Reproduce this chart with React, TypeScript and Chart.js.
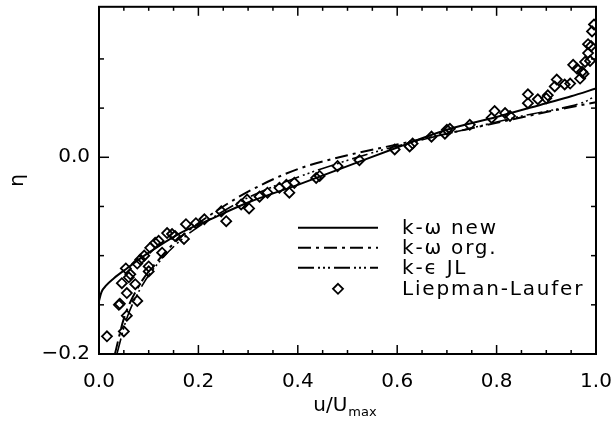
import React, { useEffect, useRef } from "react";
import { Chart, registerables } from "chart.js";

Chart.register(...registerables);

// ---- data ----
const newU = [0, 0.005, 0.015, 0.03, 0.056, 0.097, 0.16, 0.22, 0.3, 0.4, 0.5, 0.6, 0.7, 0.8, 0.9, 0.95, 1.0];
const newEta = [-0.146, -0.137, -0.13, -0.123, -0.113, -0.098, -0.078, -0.064, -0.046, -0.028, -0.009, 0.01, 0.028, 0.041, 0.055, 0.062, 0.07];

const orgU = [0.032, 0.05, 0.08, 0.117, 0.16, 0.22, 0.3, 0.4, 0.5, 0.6, 0.7, 0.8, 0.9, 1.0];
const orgEta = [-0.2, -0.164, -0.131, -0.106, -0.083, -0.06, -0.035, -0.012, 0.002, 0.013, 0.024, 0.035, 0.046, 0.056];

const jlU = [0.036, 0.055, 0.085, 0.12, 0.17, 0.23, 0.3, 0.38, 0.47, 0.56, 0.66, 0.76, 0.86, 0.94, 0.98, 1.0];
const jlEta = [-0.2, -0.165, -0.132, -0.107, -0.082, -0.061, -0.041, -0.024, -0.008, 0.006, 0.019, 0.031, 0.043, 0.051, 0.057, 0.063];

const expU = [
  0.016, 0.05, 0.056, 0.042, 0.04, 0.077, 0.056, 0.073, 0.046, 0.054, 0.063, 0.1, 0.1, 0.077, 0.091,
  0.103, 0.127, 0.113, 0.06, 0.083, 0.12, 0.137, 0.147, 0.171, 0.175, 0.195, 0.212, 0.246, 0.256,
  0.286, 0.302, 0.298, 0.323, 0.339, 0.153, 0.363, 0.383, 0.393, 0.377, 0.444, 0.437, 0.48, 0.524,
  0.595, 0.625, 0.631, 0.669, 0.696, 0.706, 0.7, 0.746, 0.79, 0.796, 0.817, 0.827, 0.863, 0.863,
  0.883, 0.9, 0.903, 0.917, 0.921, 0.948, 0.954, 0.968, 0.972, 0.978, 0.984, 0.984, 0.992, 0.99,
  0.988, 0.962, 0.937, 0.975, 0.996,
];
const expEta = [
  -0.182, -0.177, -0.161, -0.149, -0.15, -0.146, -0.138, -0.129, -0.128, -0.113, -0.119, -0.116, -0.111, -0.108, -0.1,
  -0.092, -0.097, -0.087, -0.122, -0.104, -0.085, -0.077, -0.078, -0.083, -0.068, -0.067, -0.063, -0.055, -0.065,
  -0.048, -0.052, -0.043, -0.04, -0.036, -0.08, -0.031, -0.036, -0.026, -0.028, -0.019, -0.021, -0.009, -0.003,
  0.008, 0.011, 0.014, 0.021, 0.024, 0.029, 0.028, 0.033, 0.04, 0.047, 0.045, 0.042, 0.064, 0.055,
  0.059, 0.06, 0.063, 0.072, 0.079, 0.075, 0.094, 0.08, 0.087, 0.097, 0.106, 0.115, 0.128, 0.113,
  0.098, 0.09, 0.074, 0.085, 0.135,
];

const xTickValues = [0, 0.2, 0.4, 0.6, 0.8, 1.0];
const xMinorValues = [0.05, 0.1, 0.15, 0.25, 0.3, 0.35, 0.45, 0.5, 0.55, 0.65, 0.7, 0.75, 0.85, 0.9, 0.95];
const yTickValues = [-0.2, 0.0];
const yMinorValues = [-0.15, -0.1, -0.05, 0.05, 0.1];

const seriesLabels = ["k-ω new", "k-ω org.", "k-ϵ JL", "Liepman-Laufer"];

const FONT = "'DejaVu Sans', sans-serif";

const framePlugin = {
  id: "frame",
  afterDatasetsDraw(chart: any) {
    const { ctx, chartArea: a, scales } = chart;
    const line = (x1: number, y1: number, x2: number, y2: number) => {
      ctx.beginPath();
      ctx.moveTo(x1, y1);
      ctx.lineTo(x2, y2);
      ctx.stroke();
    };
    ctx.save();
    ctx.strokeStyle = "#000";
    ctx.lineWidth = 2;
    ctx.strokeRect(a.left, a.top, a.right - a.left, a.bottom - a.top);
    ctx.lineWidth = 1.5;
    xTickValues.forEach((v) => {
      const p = scales.x.getPixelForValue(v);
      line(p, a.bottom, p, a.bottom - 9);
      line(p, a.top, p, a.top + 9);
    });
    xMinorValues.forEach((v) => {
      const p = scales.x.getPixelForValue(v);
      line(p, a.bottom, p, a.bottom - 4);
      line(p, a.top, p, a.top + 4);
    });
    yTickValues.forEach((v) => {
      const p = scales.y.getPixelForValue(v);
      line(a.left, p, a.left + 10, p);
      line(a.right, p, a.right - 10, p);
    });
    yMinorValues.forEach((v) => {
      const p = scales.y.getPixelForValue(v);
      line(a.left, p, a.left + 5, p);
      line(a.right, p, a.right - 5, p);
    });
    ctx.restore();
  },
};

const legendPlugin = {
  id: "customLegend",
  afterDraw(chart: any) {
    const { ctx, chartArea: a } = chart;
    const x0 = a.left + 199;
    const x1 = a.left + 279;
    const tx = a.left + 303;
    const rows = [a.top + 221, a.top + 241, a.top + 261, a.top + 282];
    ctx.save();
    ctx.font = `20px ${FONT}`;
    ctx.textBaseline = "middle";
    ctx.fillStyle = "#000";
    (ctx as any).letterSpacing = "1.8px";
    chart.data.datasets.forEach((ds: any, i: number) => {
      const y = rows[i];
      ctx.strokeStyle = "#000";
      if (ds.showLine === false) {
        const r = 5;
        const cx = (x0 + x1) / 2;
        ctx.lineWidth = 1.8;
        ctx.beginPath();
        ctx.moveTo(cx, y - r);
        ctx.lineTo(cx + r, y);
        ctx.lineTo(cx, y + r);
        ctx.lineTo(cx - r, y);
        ctx.closePath();
        ctx.stroke();
      } else {
        ctx.lineWidth = 2;
        ctx.setLineDash(ds.borderDash || []);
        ctx.beginPath();
        ctx.moveTo(x0, y);
        ctx.lineTo(x1, y);
        ctx.stroke();
        ctx.setLineDash([]);
      }
      ctx.fillText(ds.label, tx, y + 1);
    });
    ctx.restore();
  },
};

const xTitlePlugin = {
  id: "xTitle",
  afterDraw(chart: any) {
    const { ctx, chartArea: a } = chart;
    ctx.save();
    ctx.fillStyle = "#000";
    ctx.textBaseline = "alphabetic";
    ctx.textAlign = "left";
    ctx.font = `20px ${FONT}`;
    const main = "u/U";
    const wMain = ctx.measureText(main).width;
    ctx.font = `13px ${FONT}`;
    const sub = "max";
    const wSub = ctx.measureText(sub).width;
    const cx = (a.left + a.right) / 2 - 3;
    const start = cx - (wMain + wSub) / 2;
    const base = a.bottom + 57;
    ctx.font = `20px ${FONT}`;
    ctx.fillText(main, start, base);
    ctx.font = `13px ${FONT}`;
    ctx.fillText(sub, start + wMain + 1, base + 5);
    ctx.restore();
  },
};

export default function App() {
  const canvasRef = useRef<HTMLCanvasElement | null>(null);

  useEffect(() => {
    const canvas = canvasRef.current;
    if (!canvas) return;
    const toPts = (xs: number[], ys: number[]) => xs.map((x, i) => ({ x, y: ys[i] }));
    const chart = new Chart(canvas, {
      type: "scatter",
      data: {
        datasets: [
          {
            label: seriesLabels[0],
            data: toPts(newU, newEta),
            showLine: true,
            borderColor: "#000",
            borderWidth: 2,
            pointRadius: 0,
            cubicInterpolationMode: "monotone",
          },
          {
            label: seriesLabels[1],
            data: toPts(orgU, orgEta),
            showLine: true,
            borderColor: "#000",
            borderWidth: 2,
            borderDash: [13, 5, 3, 5],
            pointRadius: 0,
            cubicInterpolationMode: "monotone",
          },
          {
            label: seriesLabels[2],
            data: toPts(jlU, jlEta),
            showLine: true,
            borderColor: "#000",
            borderWidth: 1.6,
            borderDash: [16, 4, 2, 3, 2, 3, 2, 4],
            pointRadius: 0,
            cubicInterpolationMode: "monotone",
          },
          {
            label: seriesLabels[3],
            data: toPts(expU, expEta),
            showLine: false,
            pointStyle: "rectRot",
            pointRadius: 5,
            pointBorderWidth: 1.8,
            pointBorderColor: "#000",
            pointBackgroundColor: "rgba(255,255,255,0)",
          },
        ],
      },
      options: {
        responsive: false,
        animation: false,
        layout: { padding: { left: 0, right: 20, top: 6, bottom: 0 } },
        plugins: {
          legend: { display: false },
          tooltip: { enabled: false },
        },
        scales: {
          x: {
            type: "linear",
            min: 0,
            max: 1,
            grid: { display: false, drawTicks: false },
            border: { display: false },
            afterBuildTicks: (s: any) => {
              s.ticks = xTickValues.map((v) => ({ value: v }));
            },
            afterFit: (s: any) => {
              s.height = 70;
              s.paddingLeft = 0;
              s.paddingRight = 0;
            },
            ticks: {
              color: "#000",
              font: { family: FONT, size: 20 },
              padding: 16,
              maxRotation: 0,
              autoSkip: false,
              callback: (v: any) => Number(v).toFixed(1),
            },
          },
          y: {
            type: "linear",
            min: -0.2,
            max: 0.153,
            grid: { display: false, drawTicks: false },
            border: { display: false },
            afterBuildTicks: (s: any) => {
              s.ticks = yTickValues.map((v) => ({ value: v }));
            },
            afterFit: (s: any) => {
              s.width = 99;
              s.paddingTop = 0;
              s.paddingBottom = 0;
            },
            title: {
              display: true,
              text: "η",
              color: "#000",
              font: { family: FONT, size: 20 },
              padding: { top: 6, bottom: 0 },
            },
            ticks: {
              color: "#000",
              font: { family: FONT, size: 20 },
              padding: 9,
              autoSkip: false,
              callback: (v: any) => {
                const n = Number(v);
                const s = Math.abs(n).toFixed(1);
                return n < -1e-9 ? "−" + s : s;
              },
            },
          },
        },
      },
      plugins: [framePlugin, legendPlugin, xTitlePlugin],
    } as any);
    return () => chart.destroy();
  }, []);

  return (
    <div style={{ position: "fixed", left: 0, top: 0, width: 616, height: 424, background: "#fff" }}>
      <canvas ref={canvasRef} width={616} height={424} style={{ display: "block" }} />
    </div>
  );
}
